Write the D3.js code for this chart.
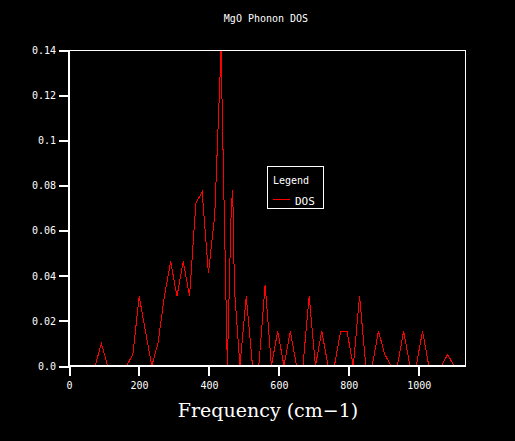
<!DOCTYPE html>
<html>
<head>
<meta charset="utf-8">
<style>
  html, body { margin: 0; padding: 0; background: #000; }
  .chart { width: 515px; height: 441px; }
  .tick text { font-family: "DejaVu Sans Mono", monospace; font-size: 10px; fill: #fff; }
  .tick line { stroke: #fff; stroke-width: 2; }
</style>
</head>
<body>
<div class="chart"></div>
<script src="https://d3js.org/d3.v7.min.js"></script>
<script>
  // frequencies (cm-1) and DOS values
  const freq = [2.6, 20.6, 38.6, 56.6, 74.6, 92.6, 110.6, 128.6, 146.6, 164.6,
                182.6, 200.6, 218.6, 236.6, 254.6, 272.6, 290.6, 308.6, 326.6, 344.6,
                362.6, 380.6, 398.6, 416.6, 434.6, 452.6, 464, 468, 473, 488.6,
                506.6, 524.6, 542.6, 560.6, 578.6, 596.6, 614.6, 632.6, 650.6, 668.6,
                686.6, 704.6, 722.6, 740.6, 758.6, 776.6, 794.6, 812.6, 830.6, 848.6,
                866.6, 884.6, 902.6, 920.6, 938.6, 956.6, 974.6, 992.6, 1010.6, 1028.6,
                1046.6, 1064.6, 1082.6, 1100.6, 1118.6];
  const dos = [0, 0, 0, 0, 0, 0.0100, 0, 0, 0, 0,
               0.0052, 0.0309, 0.0155, 0, 0.0103, 0.0309, 0.0464, 0.0309, 0.0464, 0.0309,
               0.0722, 0.0773, 0.0412, 0.0670, 0.1400, 0, 0.0710, 0.0780, 0.0340, 0,
               0.0309, 0, 0, 0.0361, 0, 0.0155, 0, 0.0155, 0, 0,
               0.0309, 0, 0.0155, 0, 0, 0.0155, 0.0155, 0, 0.0309, 0,
               0, 0.0155, 0.0052, 0, 0, 0.0155, 0, 0, 0.0155, 0,
               0, 0, 0.0052, 0, 0];
  const xTicks = [0, 200, 400, 600, 800, 1000];
  const yTicks = [0, 0.02, 0.04, 0.06, 0.08, 0.1, 0.12, 0.14];

  const width = 515, height = 441;
  const mLeft = 69, mRight = 465, mTop = 50.5, mBottom = 366;

  const svg = d3.select('.chart')
                .append('svg')
                .attr('width', width)
                .attr('height', height)
                .style('background', '#000');

  const xScale = d3.scaleLinear()
                   .domain([0, 1132])
                   .range([mLeft, mRight]);
  const yScale = d3.scaleLinear()
                   .domain([0, 0.14])
                   .range([mBottom, mTop]);

  // DOS line
  const line = d3.line()
                 .x((d, i) => xScale(freq[i]))
                 .y(d => yScale(d));
  svg.append('path')
     .attr('d', line(dos))
     .attr('fill', 'none')
     .attr('stroke', '#ff0000')
     .attr('stroke-width', 1)
     .attr('shape-rendering', 'crispEdges');

  // frame: thin top/right, thicker left/bottom
  svg.append('rect')
     .attr('x', mLeft).attr('y', mTop)
     .attr('width', mRight - mLeft).attr('height', mBottom - mTop)
     .attr('fill', 'none').attr('stroke', '#fff').attr('stroke-width', 1)
     .attr('shape-rendering', 'crispEdges');

  const xAxis = d3.axisBottom(xScale)
                  .tickValues(xTicks)
                  .tickSize(10)
                  .tickPadding(6)
                  .tickFormat(d3.format('d'));
  svg.append('g')
     .attr('transform', `translate(0,${mBottom})`)
     .call(xAxis)
     .call(g => g.select('.domain').attr('stroke', '#fff').attr('stroke-width', 2)
                 .attr('d', `M${mLeft},0H${mRight}`));

  const yAxis = d3.axisLeft(yScale)
                  .tickValues(yTicks)
                  .tickSize(10)
                  .tickPadding(3)
                  .tickFormat(d => d === 0 ? '0.0' : String(d));
  svg.append('g')
     .attr('transform', `translate(${mLeft},0)`)
     .call(yAxis)
     .call(g => g.select('.domain').attr('stroke', '#fff').attr('stroke-width', 2)
                 .attr('d', `M0,${mTop}V${mBottom}`));

  svg.selectAll('.tick line').attr('shape-rendering', 'crispEdges');

  // title
  svg.append('text')
     .attr('x', 266).attr('y', 22)
     .attr('text-anchor', 'middle')
     .style('font-family', '"DejaVu Sans Mono", monospace')
     .style('font-size', '10px')
     .style('fill', '#fff')
     .text('MgO Phonon DOS');

  // x label
  svg.append('text')
     .attr('x', 268).attr('y', 417)
     .attr('text-anchor', 'middle')
     .style('font-family', '"DejaVu Serif", serif')
     .style('font-size', '19px')
     .style('fill', '#fff')
     .text('Frequency (cm\u22121)');

  // legend
  const lg = svg.append('g');
  lg.append('rect')
    .attr('x', 267.5).attr('y', 166.5)
    .attr('width', 56).attr('height', 42)
    .attr('fill', '#000').attr('stroke', '#fff').attr('stroke-width', 1)
    .attr('shape-rendering', 'crispEdges');
  lg.append('text')
    .attr('x', 273).attr('y', 184)
    .style('font-family', '"DejaVu Sans Mono", monospace')
    .style('font-size', '10px')
    .style('fill', '#fff')
    .text('Legend');
  lg.append('line')
    .attr('x1', 273).attr('x2', 290)
    .attr('y1', 199.5).attr('y2', 199.5)
    .attr('stroke', '#ff0000').attr('stroke-width', 1)
    .attr('shape-rendering', 'crispEdges');
  lg.append('text')
    .attr('x', 295).attr('y', 205)
    .style('font-family', '"DejaVu Sans Mono", monospace')
    .style('font-size', '11px')
    .style('fill', '#fff')
    .text('DOS');
</script>
</body>
</html>
